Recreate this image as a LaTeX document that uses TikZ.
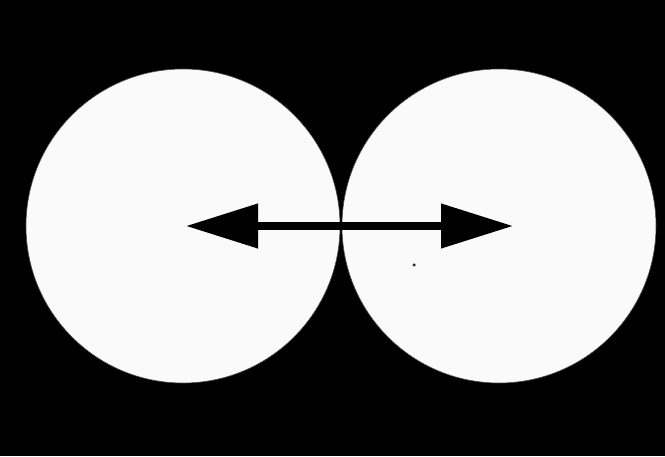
\documentclass[tikz,border=0pt]{standalone}
\usetikzlibrary{arrows.meta}
\definecolor{disc}{RGB}{250,250,250}
\tikzset{
  sun/.style={circle, fill=disc, draw=black!70, line width=0.6pt, minimum size=314pt, inner sep=0pt},
  dblarrow/.style={line width=7.5pt, black, {Triangle[length=72pt,width=43pt]}-{Triangle[length=72pt,width=43pt]}},
  speck/.style={circle, fill=black!80, inner sep=0pt, minimum size=3.5pt}
}
\begin{document}
\begin{tikzpicture}[x=1pt,y=1pt]
  \fill[black] (0,0) rectangle (665,456);
  \useasboundingbox (0,0) rectangle (665,456);
  \node[sun] (left) at (183,230) {};
  \node[sun] (right) at (499,230) {};
  \coordinate (ltip) at (186,230);
  \coordinate (rtip) at (513,230);
  \draw[dblarrow] (ltip) -- (rtip);
  \node[speck] (dot) at (414,191) {};
\end{tikzpicture}
\end{document}
